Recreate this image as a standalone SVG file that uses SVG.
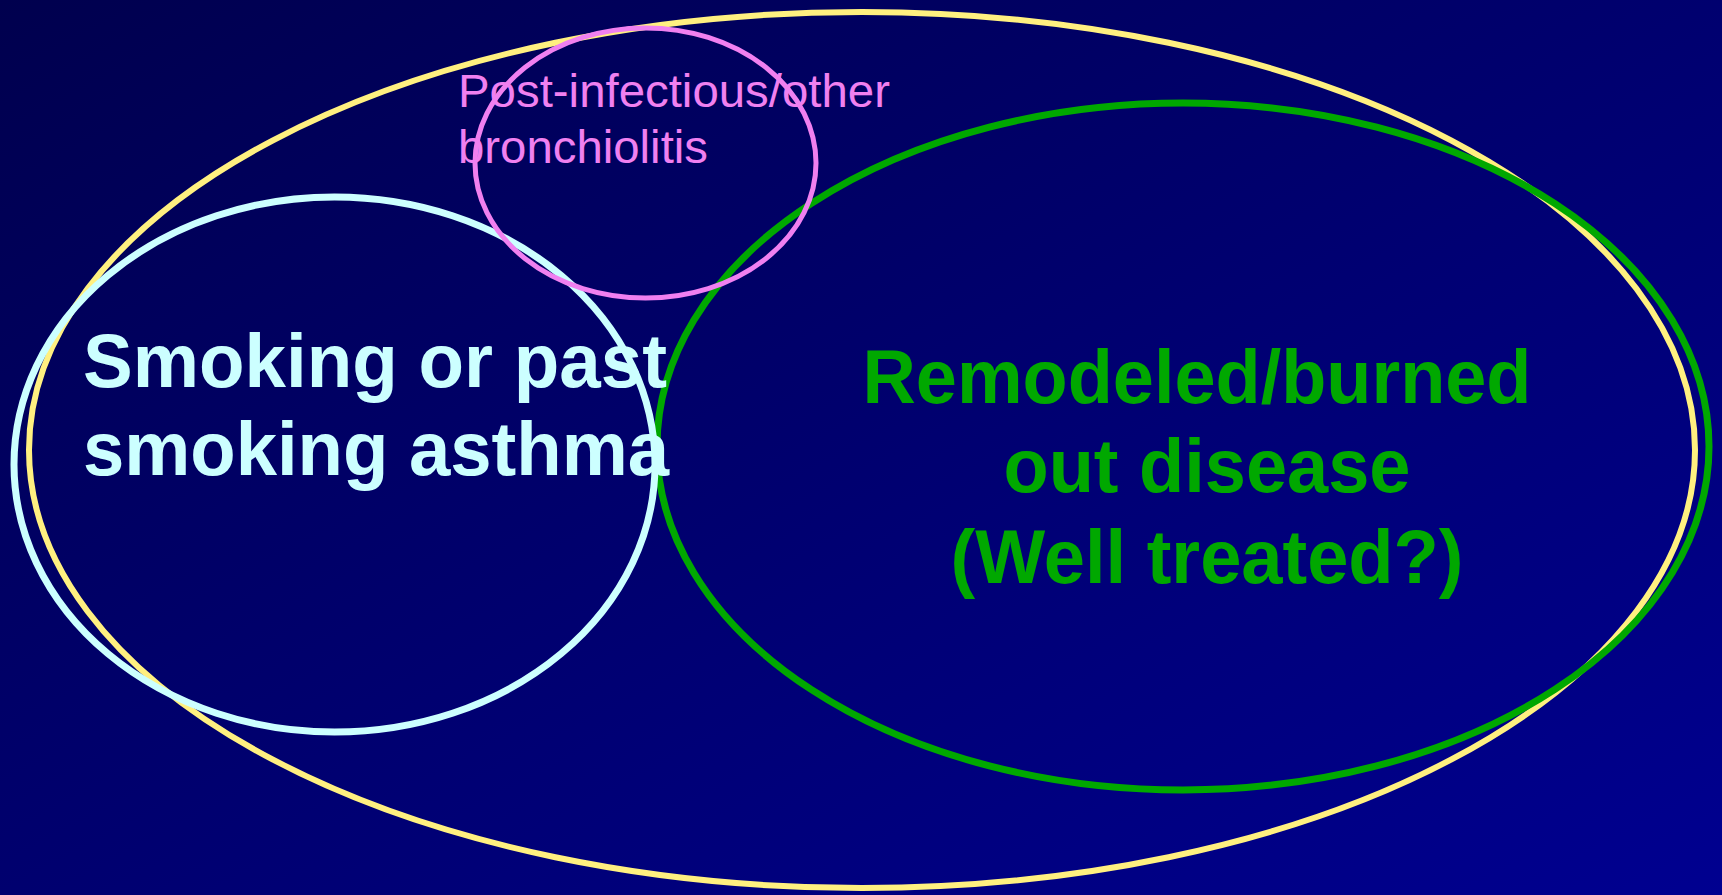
<svg xmlns="http://www.w3.org/2000/svg" width="1722" height="895" viewBox="0 0 1722 895">
<defs>
<linearGradient id="bg" x1="0" y1="0" x2="1" y2="1">
<stop offset="0" stop-color="#00004E"/>
<stop offset="1" stop-color="#000090"/>
</linearGradient>
</defs>
<style>
.e{fill:none}
.big{font-family:"Liberation Sans",Arial,sans-serif;font-weight:bold;font-size:76px}
.small{font-family:"Liberation Sans",Arial,sans-serif;font-size:47px;fill:#F080F0}
</style>
<rect width="1722" height="895" fill="url(#bg)"/>
<g id="all">
<ellipse class="e" cx="862" cy="450" rx="833" ry="438" stroke="#FFF080" stroke-width="6"/>
</g>
<g id="remodeled">
<ellipse class="e" cx="1183" cy="446.5" rx="526" ry="343.5" stroke="#00A800" stroke-width="7"/>
<text class="big" fill="#00A800" text-anchor="middle" x="1197" y="403" textLength="669" lengthAdjust="spacingAndGlyphs">Remodeled/burned</text>
<text class="big" fill="#00A800" text-anchor="middle" x="1207" y="492" textLength="407" lengthAdjust="spacingAndGlyphs">out disease</text>
<text class="big" fill="#00A800" text-anchor="middle" x="1207" y="583" textLength="513" lengthAdjust="spacingAndGlyphs">(Well treated?)</text>
</g>
<g id="smoking">
<ellipse class="e" cx="334.5" cy="464.5" rx="320.5" ry="267.5" stroke="#CCFFFF" stroke-width="7"/>
<text class="big" fill="#CCFFFF" x="83" y="387" textLength="584" lengthAdjust="spacingAndGlyphs">Smoking or past</text>
<text class="big" fill="#CCFFFF" x="83" y="475" textLength="586" lengthAdjust="spacingAndGlyphs">smoking asthma</text>
</g>
<g id="postinfectious">
<ellipse class="e" cx="645.5" cy="163" rx="170.5" ry="135" stroke="#F080F0" stroke-width="5"/>
<text class="small" x="458" y="107" textLength="432" lengthAdjust="spacingAndGlyphs">Post-infectious/other</text>
<text class="small" x="458" y="163" textLength="250" lengthAdjust="spacingAndGlyphs">bronchiolitis</text>
</g>
<g id="connectors"/>
</svg>
